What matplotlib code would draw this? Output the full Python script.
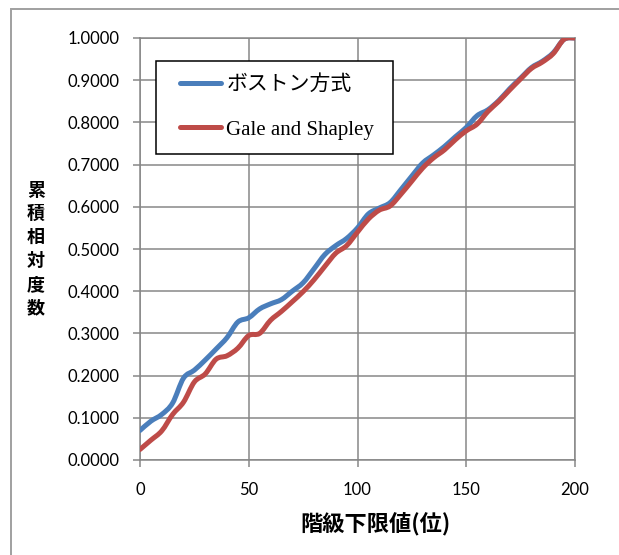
import matplotlib
matplotlib.use("Agg")
import matplotlib.pyplot as plt
from matplotlib.path import Path
from matplotlib.patches import PathPatch, Rectangle
from matplotlib.lines import Line2D
from matplotlib.legend_handler import HandlerLine2D
from matplotlib.ticker import FormatStrFormatter

# class lower bound (rank)
rank = list(range(0, 201, 5))

# cumulative relative frequency
boston = [0.070, 0.092, 0.108, 0.135, 0.194, 0.213, 0.237, 0.263, 0.290, 0.327,
          0.337, 0.358, 0.370, 0.380, 0.400, 0.420, 0.453, 0.487, 0.508, 0.525,
          0.550, 0.583, 0.597, 0.610, 0.641, 0.673, 0.704, 0.723, 0.743, 0.766,
          0.788, 0.816, 0.830, 0.852, 0.880, 0.905, 0.930, 0.945, 0.965, 0.997,
          1.000]
gale_shapley = [0.025, 0.047, 0.069, 0.108, 0.137, 0.185, 0.204, 0.239, 0.247, 0.265,
                0.295, 0.300, 0.331, 0.352, 0.375, 0.399, 0.427, 0.459, 0.490, 0.508,
                0.540, 0.571, 0.592, 0.602, 0.630, 0.661, 0.692, 0.716, 0.735, 0.759,
                0.780, 0.796, 0.826, 0.850, 0.877, 0.903, 0.928, 0.943, 0.963, 0.997,
                1.000]

labels = ["ボストン方式", "Gale and Shapley"]
colors = ["#4A7EBB", "#BE4B48"]

cjk = "Noto Sans CJK JP"
grid_c = "#878787"


def smooth_path(xs, ys):
    # excel style smoothed line: cubic bezier through every point
    pts = list(zip(xs, ys))
    n = len(pts)
    verts = [pts[0]]
    codes = [Path.MOVETO]
    for i in range(n - 1):
        p0 = pts[max(i - 1, 0)]
        p1 = pts[i]
        p2 = pts[i + 1]
        p3 = pts[min(i + 2, n - 1)]
        c1 = (p1[0] + (p2[0] - p0[0]) / 6, p1[1] + (p2[1] - p0[1]) / 6)
        c2 = (p2[0] - (p3[0] - p1[0]) / 6, p2[1] - (p3[1] - p1[1]) / 6)
        verts += [c1, c2, p2]
        codes += [Path.CURVE4] * 3
    return Path(verts, codes)


fig = plt.figure(figsize=(6.19, 5.55), dpi=100)
ax = fig.add_axes([140 / 619, 1 - 460 / 555, 435 / 619, 422 / 555])

for ys, c in zip([boston, gale_shapley], colors):
    ax.add_patch(PathPatch(smooth_path(rank, ys), fill=False, edgecolor=c,
                           lw=3.6, capstyle="round", joinstyle="round", zorder=3))

ax.set_xlim(0, 200)
ax.set_ylim(0, 1)
ax.set_xticks(range(0, 201, 50))
ax.set_yticks([i / 10 for i in range(11)])
ax.yaxis.set_major_formatter(FormatStrFormatter("%.4f"))
ax.grid(True, color=grid_c, lw=1.1)
ax.set_axisbelow(True)
for s in ax.spines.values():
    s.set_color(grid_c)
    s.set_linewidth(1.1)
ax.tick_params(axis="both", direction="out", length=5, width=1.1, color=grid_c,
               labelsize=12)
ax.tick_params(axis="x", pad=11)
ax.tick_params(axis="y", pad=10)
for t in ax.get_xticklabels() + ax.get_yticklabels():
    t.set_fontfamily(["Lato", "DejaVu Sans"])

# axis titles
fig.text(375 / 619, 1 - 524 / 555, "階級下限値(位)", ha="center", va="center",
         fontsize=16, fontweight="bold", family=[cjk, "DejaVu Sans"])
fig.text(36 / 619, 1 - 249 / 555, "\n".join("累積相対度数"), ha="center", va="center",
         fontsize=13, fontweight="bold", family=[cjk, "DejaVu Sans"],
         linespacing=1.3)

handles = [Line2D([], [], color=c, lw=3.6, solid_capstyle="round") for c in colors]
leg = ax.legend(handles, labels, loc="upper left", mode="expand",
                bbox_to_anchor=(156 / 619, 1 - 61 / 555, 237 / 619, 0),
                bbox_transform=fig.transFigure,
                prop={"family": ["Liberation Serif", cjk], "size": 15},
                frameon=True, fancybox=False, borderpad=0.68, labelspacing=1.2,
                handlelength=2.45, handletextpad=0.24, borderaxespad=0,
                handler_map={Line2D: HandlerLine2D(xpad=0.45)})
leg.get_frame().set_edgecolor("black")
leg.get_frame().set_linewidth(1.1)
leg.get_frame().set_alpha(1)

# outer chart border
fig.patches.append(Rectangle((11 / 619, -0.1), 1.0, 1.1 - 9 / 555, fill=False,
                             edgecolor="#a0a0a0", lw=1.4,
                             transform=fig.transFigure, figure=fig))

plt.savefig("out.png", dpi=100)
